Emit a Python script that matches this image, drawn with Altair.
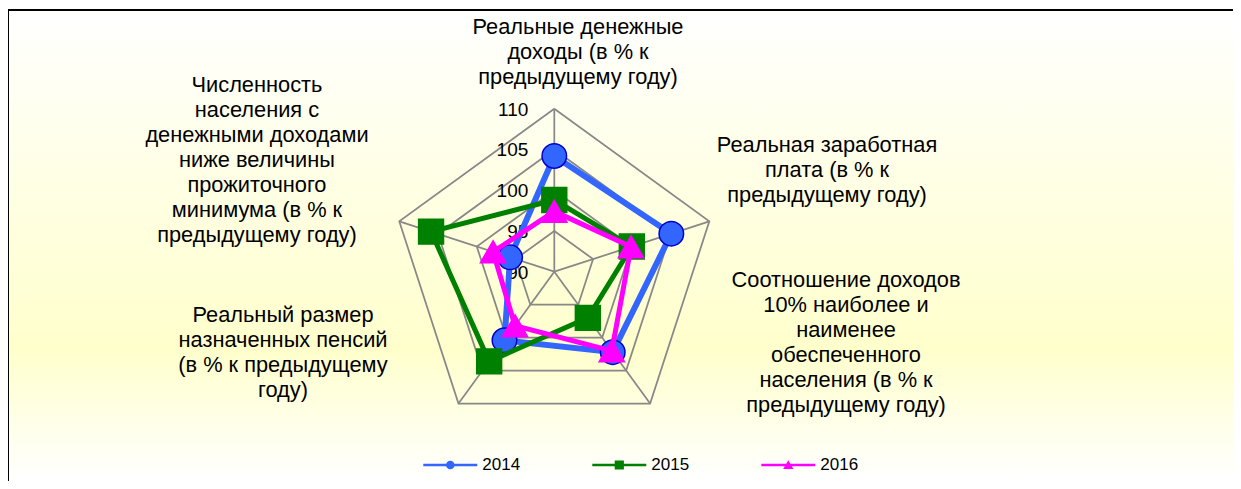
import altair as alt
import pandas as pd

# ---------------- data ----------------
categories = [
    "Реальные денежные\nдоходы (в % к\nпредыдущему году)",
    "Реальная заработная\nплата (в % к\nпредыдущему году)",
    "Соотношение доходов\n10% наиболее и\nнаименее\nобеспеченного\nнаселения (в % к\nпредыдущему году)",
    "Реальный размер\nназначенных пенсий\n(в % к предыдущему\nгоду)",
    "Численность\nнаселения с\nденежными доходами\nниже величины\nпрожиточного\nминимума (в % к\nпредыдущему году)",
]
years = ["2014", "2015", "2016"]
values_2014 = [104.2, 105.1, 102.2, 100.4, 95.7]
values_2015 = [98.8, 100.0, 97.0, 103.6, 105.9]
values_2016 = [97.4, 99.9, 102.0, 98.2, 97.9]
ticks = [90, 95, 100, 105, 110]

# ---------------- style / layout ----------------
W, H = 1225, 473
CX, CY, RPX = 546.3, 263.7, 163.0        # radar centre and outer radius (px)
FONT = "Liberation Sans"
series_colors = ["#3366FF", "#008000", "#FF00FF"]
marker_strokes = ["#0000CC", "#008000", "#FF00FF"]
line_widths = [6, 5, 5]
marker_shapes = ["circle", "square", "triangle-up"]
marker_sizes = [600, 620, 640]
legend_paths = [
    "M-1,-0.046H1V0.046H-1Z M-0.16,0A0.16,0.16 0 1,1 0.16,0A0.16,0.16 0 1,1 -0.16,0Z",
    "M-1,-0.046H1V0.046H-1Z M-0.17,-0.17H0.17V0.17H-0.17Z",
    "M-1,-0.046H1V0.046H-1Z M0,-0.18L0.19,0.15L-0.19,0.15Z",
]
# offsets of each category label's first line from its axis end (px)
label_dx = [23.7, 117.7, 195.9, -175.5, -142.3]
label_dy = [-81.7, -76.3, -123.6, -88.6, -136.3]

n = len(categories)
base = ticks[0]
k = RPX / (ticks[-1] - ticks[0])
xdom = [-CX / k, (W - CX) / k]
ydom = [-(H - CY) / k, CY / k]

X = alt.X("px:Q", scale=alt.Scale(domain=xdom, nice=False, zero=False), axis=None)
Y = alt.Y("py:Q", scale=alt.Scale(domain=ydom, nice=False, zero=False), axis=None)


def polar(ch):
    return (
        ch.transform_calculate(ang=f"datum.idx * 2 * PI / {n}")
        .transform_calculate(rr=f"datum.value - {base}")
        .transform_calculate(px="datum.rr * sin(datum.ang)")
        .transform_calculate(py="datum.rr * cos(datum.ang)")
    )


# series table
rows = []
for yr, vals in zip(years, [values_2014, values_2015, values_2016]):
    for i in range(n + 1):
        rows.append({"year": yr, "idx": i, "value": vals[i % n]})
df = pd.DataFrame(rows)

# grid table
grid_rows = []
for lv in ticks[1:]:
    for i in range(n + 1):
        grid_rows.append({"level": lv, "idx": i, "value": lv})
grid_df = pd.DataFrame(grid_rows)

cat_df = pd.DataFrame({"idx": list(range(n)), "value": [ticks[-1]] * n, "label": categories})
tick_df = pd.DataFrame({"idx": [0] * len(ticks), "value": ticks, "label": [str(t) for t in ticks]})
one = pd.DataFrame({"a": [0]})

# ---------------- layers ----------------
bg = alt.Chart(one).mark_rect(
    fill=alt.LinearGradient(
        gradient="linear",
        stops=[
            alt.GradientStop(color="#FFFFFF", offset=0),
            alt.GradientStop(color="#FFFFCC", offset=0.72),
            alt.GradientStop(color="#FFFFFF", offset=1),
        ],
        x1=0, x2=0, y1=0, y2=1,
    )
).encode(x=alt.value(0), x2=alt.value(W), y=alt.value(2), y2=alt.value(H))

frame_top = alt.Chart(one).mark_rule(color="black", strokeWidth=2).encode(
    x=alt.value(0), x2=alt.value(W), y=alt.value(2), y2=alt.value(2))
frame_left = alt.Chart(one).mark_rule(color="black", strokeWidth=2).encode(
    x=alt.value(0), x2=alt.value(0), y=alt.value(2), y2=alt.value(H))

grid = polar(alt.Chart(grid_df)).mark_line(color="#888888", strokeWidth=1.75).encode(
    x=X, y=Y, detail="level:N", order="idx:Q")

spokes = (
    polar(alt.Chart(cat_df))
    .transform_calculate(zx="0", zy="0")
    .mark_rule(color="#888888", strokeWidth=1.75)
    .encode(x=X, y=Y, x2="zx:Q", y2="zy:Q")
)

tick_labels = polar(alt.Chart(tick_df)).mark_text(
    align="right", baseline="middle", dx=-26, dy=1, fontSize=19, font=FONT, color="black"
).encode(x=X, y=Y, text="label:N")

cat_labels = []
for i in range(n):
    cat_labels.append(
        polar(alt.Chart(cat_df).transform_filter(alt.datum.idx == i))
        .mark_text(align="center", baseline="middle", dx=label_dx[i], dy=label_dy[i],
                   fontSize=21.8, font=FONT, color="black", lineBreak="\n", lineHeight=25)
        .encode(x=X, y=Y, text="label:N")
    )

series_layers = []
for j, yr in enumerate(years):
    src = alt.Chart(df).transform_filter(alt.datum.year == yr)
    ln = polar(src).mark_line(color=series_colors[j], strokeWidth=line_widths[j]).encode(
        x=X, y=Y, order="idx:Q")
    pt = polar(src.transform_filter(alt.datum.idx < n)).mark_point(
        shape=marker_shapes[j], filled=True, size=marker_sizes[j], opacity=1,
        color=series_colors[j], stroke=marker_strokes[j], strokeWidth=1.5
    ).encode(x=X, y=Y)
    series_layers += [ln, pt]

leg = alt.Legend(
    orient="none", legendX=415.3, legendY=430, direction="horizontal",
    title=None, symbolSize=2916, symbolStrokeWidth=0, symbolOpacity=1,
    labelFontSize=17, labelFont=FONT, labelColor="black",
    labelOffset=5, columnPadding=72, padding=0, offset=0)

legend_layer = polar(alt.Chart(df)).mark_point(filled=True, opacity=0).encode(
    x=X, y=Y,
    color=alt.Color("year:N", scale=alt.Scale(domain=years, range=series_colors), legend=leg),
    shape=alt.Shape("year:N", scale=alt.Scale(domain=years, range=legend_paths), legend=leg),
)

chart = alt.layer(
    bg, frame_top, frame_left, grid, spokes, tick_labels, *cat_labels, *series_layers, legend_layer
).properties(
    width=W, height=H, autosize="none", padding=0, background="white"
).configure_view(stroke=None)

chart.save("out.html", embed_options={"renderer": "svg", "actions": False})
